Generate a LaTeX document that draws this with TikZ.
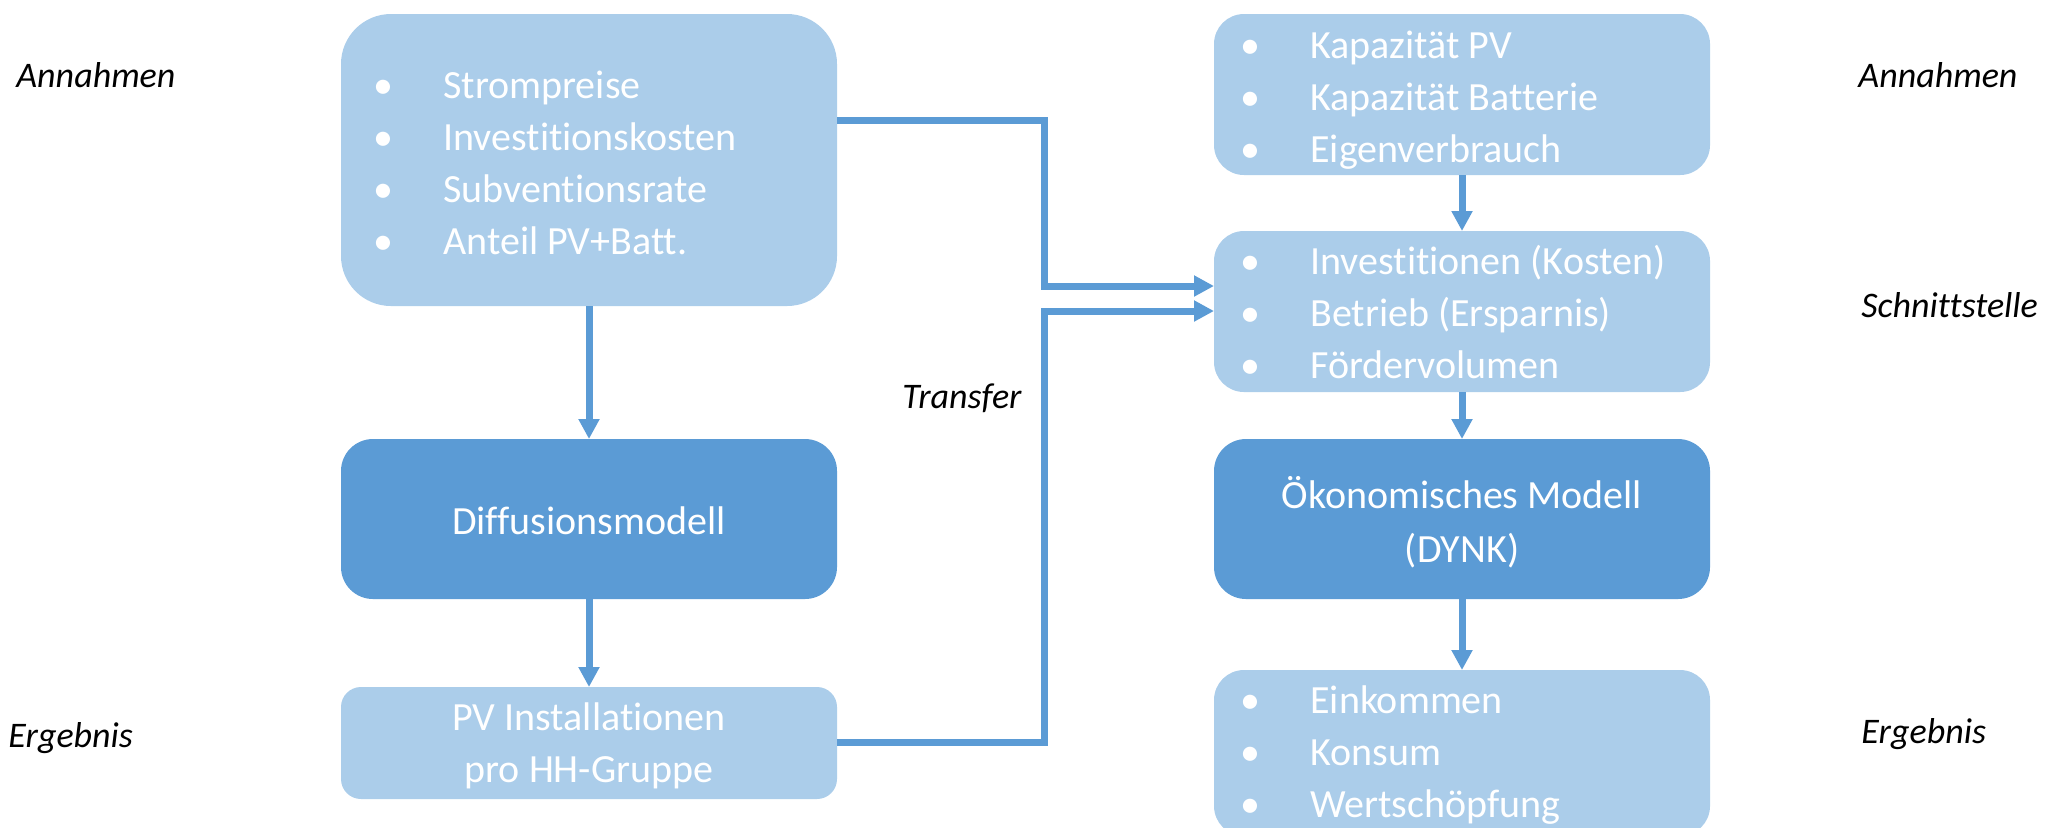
\documentclass[tikz,border=0pt]{standalone}
\usepackage{fontspec}
\setmainfont{Carlito}[Ligatures=NoCommon]
\usetikzlibrary{arrows.meta,fit}
\definecolor{lightb}{HTML}{ABCDEA}
\definecolor{darkb}{HTML}{5B9BD5}
\begin{document}
\begin{tikzpicture}[x=0.5pt,y=-0.5pt,
  box/.style={draw=none, inner sep=0pt, outer sep=0pt},
  lbox/.style={box, fill=lightb},
  dbox/.style={box, fill=darkb},
  txt/.style={text=white, font=\fontsize{20}{24}\selectfont, anchor=base west, inner sep=0pt},
  bul/.style={text=white, font=\fontsize{20}{24}\selectfont, anchor=base, inner sep=0pt},
  ctxt/.style={text=white, font=\fontsize{20}{24}\selectfont, anchor=base, inner sep=0pt},
  side/.style={font=\fontsize{18}{22}\selectfont\itshape, anchor=base west, inner sep=0pt},
  arr/.style={draw=darkb, line width=3.5pt, line join=miter, -{Triangle[length=10pt,width=10pt]}},
]
\useasboundingbox (0,0) rectangle (2049,827);

% boxes
\node[lbox, rounded corners=25pt, fit={(341,14)(837,306)}] (b1) {};
\node[dbox, rounded corners=16pt, fit={(341,439)(837,599)}] (diff) {};
\node[lbox, rounded corners=10pt, fit={(341,687)(837,799)}] (pv) {};
\node[lbox, rounded corners=15pt, fit={(1214,14)(1710,175)}] (r1) {};
\node[lbox, rounded corners=15pt, fit={(1214,231)(1710,392)}] (r2) {};
\node[dbox, rounded corners=16pt, fit={(1214,439)(1710,599)}] (r3) {};
\node[lbox, rounded corners=15pt, fit={(1214,670)(1710,836)}] (r4) {};

% box texts
\foreach \t [count=\i] in {Strompreise, Investitionskosten, Subventionsrate, Anteil PV+Batt.} {
  \node[bul] (b1b\i) at (383, 46+52*\i) {•};
  \node[txt] (b1t\i) at (443, 46+52*\i) {\t};
}
\foreach \t [count=\i] in {Kapazität PV, Kapazität Batterie, Eigenverbrauch} {
  \node[bul] (r1b\i) at (1250, 6+52*\i) {•};
  \node[txt] (r1t\i) at (1310, 6+52*\i) {\t};
}
\foreach \t [count=\i] in {Investitionen (Kosten), Betrieb (Ersparnis), Fördervolumen} {
  \node[bul] (r2b\i) at (1250, 222+52*\i) {•};
  \node[txt] (r2t\i) at (1310, 222+52*\i) {\t};
}
\foreach \t [count=\i] in {Einkommen, Konsum, Wertschöpfung} {
  \node[bul] (r4b\i) at (1250, 661+52*\i) {•};
  \node[txt] (r4t\i) at (1310, 661+52*\i) {\t};
}
\node[ctxt] (difft) at (589,534) {Diffusionsmodell};
\node[ctxt] (pvt1) at (589,730) {PV Installationen};
\node[ctxt] (pvt2) at (589,782) {pro HH-Gruppe};
\node[ctxt] (r3t1) at (1462,508) {Ökonomisches Modell};
\node[ctxt] (r3t2) at (1462,562) {(DYNK)};

% side labels
\node[side] (ann1) at (16,87) {Annahmen};
\node[side] (erg1) at (8,747) {Ergebnis};
\node[side] (ann2) at (1858,87) {Annahmen};
\node[side] (schn) at (1861,317) {Schnittstelle};
\node[side] (erg2) at (1861,743) {Ergebnis};
\node[side] (trans) at (902,408) {Transfer};

% connectors
\draw[arr] (b1.south) -- (diff.north);
\draw[arr] (diff.south) -- (pv.north);
\draw[arr] (r1.south) -- (r2.north);
\draw[arr] (r2.south) -- (r3.north);
\draw[arr] (r3.south) -- (r4.north);

\coordinate (t1) at (1044,120);
\coordinate (t2) at (1044,286);
\coordinate (t3) at (1044,742);
\coordinate (t4) at (1044,311);
\draw[arr] (b1.east |- t1) -- (t1) -- (t2) -- (r2.west |- t2);
\draw[arr] (pv.east |- t3) -- (t3) -- (t4) -- (r2.west |- t4);
\end{tikzpicture}
\end{document}
